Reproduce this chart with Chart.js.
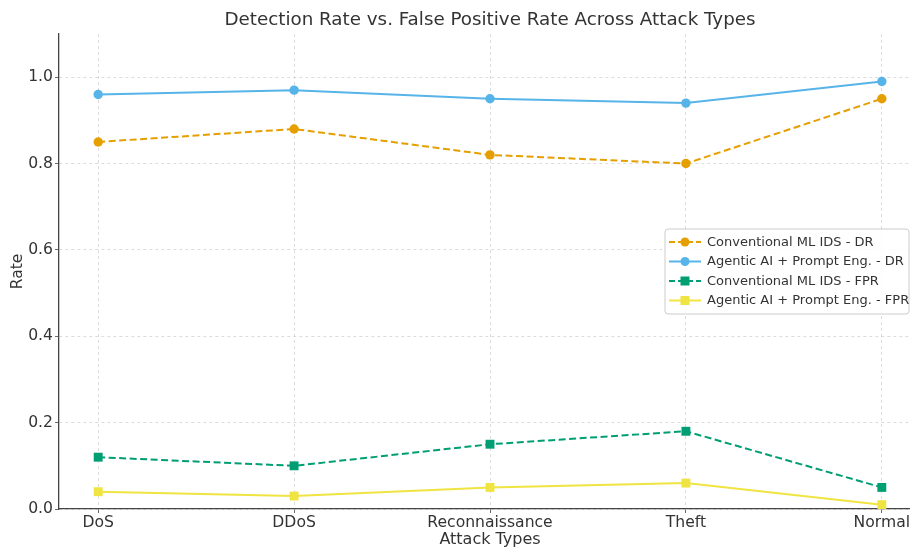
<!DOCTYPE html>
<html>
<head>
<meta charset="utf-8">
<script src="https://cdn.jsdelivr.net/npm/chart.js@4.4.1/dist/chart.umd.min.js"></script>
<style>
  html, body { margin: 0; padding: 0; background: #fff; overflow: hidden; }
  #wrap { position: relative; width: 910px; height: 549px; overflow: hidden; }
  canvas { position: absolute; left: 0; top: 0; }
</style>
</head>
<body>
<div id="wrap"><canvas id="lineChart" width="950" height="549"></canvas></div>
<script>
(() => {
  'use strict'

  // Data
  const attackTypes = ['DoS', 'DDoS', 'Reconnaissance', 'Theft', 'Normal'];
  const convDR = [0.85, 0.88, 0.82, 0.80, 0.95];
  const agentDR = [0.96, 0.97, 0.95, 0.94, 0.99];
  const convFPR = [0.12, 0.10, 0.15, 0.18, 0.05];
  const agentFPR = [0.04, 0.03, 0.05, 0.06, 0.01];
  const yTicks = [0.0, 0.2, 0.4, 0.6, 0.8, 1.0];
  const chartTitle = 'Detection Rate vs. False Positive Rate Across Attack Types';

  const FONT = "'DejaVu Sans', sans-serif";
  const TEXT = '#333';

  const toPoints = (arr) => arr.map((v, i) => ({ x: i, y: v }));

  const series = (label, values, color, dashed, marker) => ({
    label: label,
    data: toPoints(values),
    borderColor: color,
    backgroundColor: color,
    borderWidth: 2,
    borderDash: dashed ? [7, 3.5] : [],
    pointStyle: marker,
    pointRadius: marker === 'rect' ? 6.3 : 4.7,
    pointBorderWidth: 0,
    tension: 0
  });

  // Title centred over the plot area, like matplotlib does
  const axesTitle = {
    id: 'axesTitle',
    afterDraw(chart) {
      const c = chart.ctx;
      const a = chart.chartArea;
      c.save();
      c.font = '18.3px ' + FONT;
      c.fillStyle = TEXT;
      c.textAlign = 'center';
      c.textBaseline = 'middle';
      c.fillText(chartTitle, (a.left + a.right) / 2, 20);
      c.restore();
    }
  };

  // Matplotlib-style legend box with line + marker samples
  const boxLegend = {
    id: 'boxLegend',
    afterDraw(chart, args, opts) {
      const c = chart.ctx;
      const { x, y, w, h, rowH } = opts;
      c.save();
      c.fillStyle = 'rgba(255,255,255,0.85)';
      c.strokeStyle = '#ccc';
      c.lineWidth = 1;
      c.beginPath();
      c.roundRect(x, y, w, h, 3);
      c.fill();
      c.stroke();
      c.font = '13px ' + FONT;
      c.textBaseline = 'middle';
      chart.data.datasets.forEach((ds, i) => {
        const cy = y + 13 + i * rowH;
        c.strokeStyle = ds.borderColor;
        c.lineWidth = 2;
        c.setLineDash(ds.borderDash.length ? [6, 3] : []);
        c.beginPath();
        c.moveTo(x + 4, cy);
        c.lineTo(x + 36, cy);
        c.stroke();
        c.setLineDash([]);
        c.fillStyle = ds.borderColor;
        if (ds.pointStyle === 'rect') {
          c.fillRect(x + 20 - 4.5, cy - 4.5, 9, 9);
        } else {
          c.beginPath();
          c.arc(x + 20, cy, 4.5, 0, Math.PI * 2);
          c.fill();
        }
        c.fillStyle = TEXT;
        c.fillText(ds.label, x + 42, cy + 0.5);
      });
      c.restore();
    }
  };

  const gridOpts = {
    color: '#d4d4d4',
    lineWidth: 0.8,
    tickColor: '#444',
    tickLength: 4,
    tickBorderDash: []
  };

  const ctx = document.getElementById('lineChart').getContext('2d');

  const config = {
    type: 'line',
    data: {
      datasets: [
        series('Conventional ML IDS - DR', convDR, '#E69F00', true, 'circle'),
        series('Agentic AI + Prompt Eng. - DR', agentDR, '#56B4E9', false, 'circle'),
        series('Conventional ML IDS - FPR', convFPR, '#009E73', true, 'rect'),
        series('Agentic AI + Prompt Eng. - FPR', agentFPR, '#F0E442', false, 'rect')
      ]
    },
    options: {
      responsive: false,
      animation: false,
      layout: { padding: { left: 0, right: 29, top: 34, bottom: 0 } },
      plugins: {
        legend: { display: false },
        tooltip: { enabled: false },
        title: { display: false },
        boxLegend: { x: 665, y: 229, w: 244, h: 85, rowH: 19.5 }
      },
      scales: {
        x: {
          type: 'linear',
          min: -0.2,
          max: 4.2,
          afterBuildTicks: (s) => { s.ticks = attackTypes.map((_, i) => ({ value: i })); },
          afterFit: (s) => { s.height = 40; },
          ticks: {
            color: TEXT,
            font: { family: FONT, size: 15.6 },
            padding: 1,
            maxRotation: 0,
            callback: (v) => attackTypes[v]
          },
          grid: gridOpts,
          border: { color: '#444', width: 1.3, dash: [3, 3] },
          title: {
            display: true,
            text: 'Attack Types',
            color: TEXT,
            font: { family: FONT, size: 16 },
            padding: { top: 0, bottom: 0 }
          }
        },
        y: {
          type: 'linear',
          min: 0,
          max: 1.1,
          afterBuildTicks: (s) => { s.ticks = yTicks.map(v => ({ value: v })); },
          afterFit: (s) => { s.width = 59; },
          ticks: {
            color: TEXT,
            font: { family: FONT, size: 15.6 },
            padding: 2,
            callback: (v) => v.toFixed(1)
          },
          grid: gridOpts,
          border: { color: '#444', width: 1.3, dash: [3, 3] },
          title: {
            display: true,
            text: 'Rate',
            color: TEXT,
            font: { family: FONT, size: 15.5 },
            padding: { top: 9, bottom: 0 }
          }
        }
      }
    },
    plugins: [axesTitle, boxLegend]
  };

  new Chart(ctx, config);
})()
</script>
</body>
</html>
